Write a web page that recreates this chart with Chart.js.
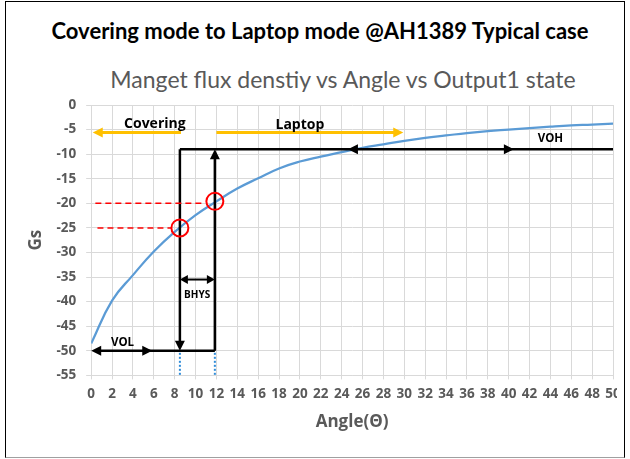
<!DOCTYPE html>
<html>
<head>
<meta charset="utf-8">
<script src="https://cdn.jsdelivr.net/npm/chart.js@4.4.1/dist/chart.umd.min.js"></script>
<style>
  body { margin: 0; background: #fff; width: 630px; height: 459px; overflow: hidden; font-family: Lato, sans-serif; }
  #marco { position: absolute; left: 5px; top: 1px; width: 618px; height: 455px; border: 1px solid #000; border-bottom-color: #a0a0a0; }
  #titulo { position: absolute; left: 0; top: 18px; width: 640px; text-align: center; font: bold 22px Lato, sans-serif; line-height: 26px; color: #000; }
  #subtitulo { position: absolute; left: 0; top: 65px; width: 686px; text-align: center; font: 23px Lato, sans-serif; line-height: 28px; color: #595959; }
  #caja { position: absolute; left: 0; top: 80px; width: 617px; height: 360px; overflow: hidden; }
  canvas { display: block; }
</style>
</head>
<body>
<div id="marco"></div>
<div id="titulo">Covering mode to Laptop mode @AH1389 Typical case</div>
<div id="subtitulo">Manget flux denstiy vs Angle vs Output1 state</div>
<div id="caja"><canvas id="grafico" width="633" height="360"></canvas></div>

<script>
// Datos de la curva (ángulo en grados, flujo en Gs)
const angulos = [0, 2, 4, 6, 8, 10, 12, 14, 16, 18, 20, 22, 24, 26, 28, 30, 32, 34, 36, 38, 40, 42, 44, 46, 48, 50];
const flujoGs = [-48.5, -39.8, -34.6, -29.8, -25.8, -22.4, -19.6, -17.0, -14.9, -12.9, -11.5, -10.5, -9.6, -8.7, -8.0, -7.3, -6.7, -6.2, -5.7, -5.3, -5.0, -4.7, -4.4, -4.15, -4.0, -3.8];

// Ejes
const ejeX = { min: 0, max: 50, paso: 2 };
const ejeY = { min: -55, max: 0, paso: 5 };

// Anotaciones (en unidades del gráfico)
const anguloBRP = 8.5;   // Covering -> punto BRP
const anguloBOP = 11.85; // Laptop -> punto BOP
const gsBRP = -25;
const gsBOP = -19.6;
const gsVOH = -9;
const gsVOL = -50;
const gsBHYS = -35.5;
const gsModos = -5.6;
const flechaCovering = [8.6, 0.15];
const flechaLaptop = [12, 29.9];
const flechaVOH = [24.6, 40.5];
const flechaVOL = [0, 5.85];
const lineasRojas = [[-20, 0.4, 10.9], [-25, 0.6, 7.7]];

function punta(ctx, x, y, dx, dy, largo, ancho, color) {
    ctx.save();
    ctx.fillStyle = color;
    ctx.translate(x, y);
    ctx.rotate(Math.atan2(dy, dx));
    ctx.beginPath();
    ctx.moveTo(0, 0);
    ctx.lineTo(-largo, -ancho);
    ctx.lineTo(-largo, ancho);
    ctx.closePath();
    ctx.fill();
    ctx.restore();
}

function linea(ctx, x0, y0, x1, y1) {
    ctx.beginPath();
    ctx.moveTo(x0, y0);
    ctx.lineTo(x1, y1);
    ctx.stroke();
}

const anotaciones = {
    id: "anotaciones",
    afterDatasetsDraw(chart) {
        const { ctx, scales } = chart;
        const px = v => scales.x.getPixelForValue(v);
        const py = v => scales.y.getPixelForValue(v);
        ctx.save();

        // Flechas naranjas de modo
        ctx.strokeStyle = "#FFC000";
        ctx.lineWidth = 3;
        linea(ctx, px(flechaCovering[0]), py(gsModos), px(flechaCovering[1]) + 8, py(gsModos));
        punta(ctx, px(flechaCovering[1]), py(gsModos), -1, 0, 10, 5, "#FFC000");
        linea(ctx, px(flechaLaptop[0]), py(gsModos), px(flechaLaptop[1]) - 8, py(gsModos));
        punta(ctx, px(flechaLaptop[1]), py(gsModos), 1, 0, 10, 5, "#FFC000");

        // Líneas negras de salida
        ctx.strokeStyle = "#000";
        ctx.lineWidth = 2.5;
        linea(ctx, px(anguloBRP), py(gsVOH), px(ejeX.max), py(gsVOH));
        linea(ctx, px(anguloBRP), py(gsVOH), px(anguloBRP), py(gsVOL) - 8);
        punta(ctx, px(anguloBRP), py(gsVOL), 0, 1, 10, 5, "#000");
        linea(ctx, px(anguloBOP), py(gsVOL), px(anguloBOP), py(gsVOH) + 8);
        punta(ctx, px(anguloBOP), py(gsVOH), 0, -1, 10, 5, "#000");
        linea(ctx, px(flechaVOL[0]) + 8, py(gsVOL), px(anguloBOP), py(gsVOL));
        punta(ctx, px(flechaVOL[0]), py(gsVOL), -1, 0, 10, 5, "#000");
        punta(ctx, px(flechaVOL[1]), py(gsVOL), 1, 0, 10, 5, "#000");
        punta(ctx, px(flechaVOH[0]), py(gsVOH), -1, 0, 10, 5, "#000");
        punta(ctx, px(flechaVOH[1]), py(gsVOH), 1, 0, 10, 5, "#000");
        ctx.lineWidth = 2;
        linea(ctx, px(anguloBRP) + 6, py(gsBHYS), px(anguloBOP) - 6, py(gsBHYS));
        punta(ctx, px(anguloBRP), py(gsBHYS), -1, 0, 8, 4.5, "#000");
        punta(ctx, px(anguloBOP), py(gsBHYS), 1, 0, 8, 4.5, "#000");

        // Puntos azules bajo VOL
        ctx.strokeStyle = "#2E8BD8";
        ctx.lineWidth = 2;
        ctx.setLineDash([2, 2]);
        linea(ctx, px(anguloBRP), py(gsVOL) + 2, px(anguloBRP), py(ejeY.min));
        linea(ctx, px(anguloBOP), py(gsVOL) + 2, px(anguloBOP), py(ejeY.min));

        // Líneas rojas punteadas y círculos
        ctx.strokeStyle = "#FF0000";
        ctx.lineWidth = 1.5;
        ctx.setLineDash([6, 4]);
        lineasRojas.forEach(([g, a0, a1]) => linea(ctx, px(a0), py(g), px(a1), py(g)));
        ctx.setLineDash([]);
        ctx.lineWidth = 2;
        [[anguloBRP, gsBRP], [anguloBOP, gsBOP]].forEach(([a, g]) => {
            ctx.beginPath();
            ctx.arc(px(a), py(g), 8.5, 0, Math.PI * 2);
            ctx.stroke();
        });

        // Textos
        ctx.fillStyle = "#000";
        ctx.textAlign = "center";
        ctx.textBaseline = "middle";
        ctx.font = "bold 14px 'Open Sans', sans-serif";
        ctx.fillText("Covering", px(6.1), py(-3.8));
        ctx.fillText("Laptop", px(20), py(-4.0));
        ctx.font = "bold 11.5px 'Open Sans', sans-serif";
        ctx.fillText("VOL", px(3.0), py(-48.3));
        ctx.fillText("VOH", px(44), py(-6.9));
        ctx.font = "bold 10px 'Open Sans', sans-serif";
        ctx.fillText("BHYS", px(10.15), py(-38.6));
        ctx.restore();
    }
};

const fuenteEje = { family: "Open Sans", weight: "bold", size: 13.5 };
const fuenteTitulo = { family: "Open Sans", weight: "bold", size: 17 };

new Chart(document.getElementById("grafico").getContext("2d"), {
    type: "line",
    data: {
        datasets: [{
            label: "Gs",
            data: angulos.map((a, i) => ({ x: a, y: flujoGs[i] })),
            borderColor: "#5B9BD5",
            borderWidth: 2.25,
            pointRadius: 0,
            tension: 0.45,
            fill: false,
        }],
    },
    options: {
        responsive: false,
        animation: false,
        layout: { padding: { left: 22, right: 20, top: 25, bottom: 4 } },
        plugins: { legend: { display: false }, tooltip: { enabled: false } },
        scales: {
            x: {
                type: "linear",
                min: ejeX.min,
                max: ejeX.max,
                grid: { color: "#D9D9D9", tickLength: 4 },
                border: { color: "#D9D9D9" },
                ticks: { stepSize: ejeX.paso, autoSkip: false, maxRotation: 0, padding: 7, color: "#595959", font: fuenteEje },
                title: { display: true, text: "Angle(Θ)", color: "#595959", padding: { top: 2, bottom: 4 }, font: fuenteTitulo },
            },
            y: {
                min: ejeY.min,
                max: ejeY.max,
                grid: { color: "#D9D9D9", tickLength: 5 },
                border: { color: "#D9D9D9" },
                ticks: { stepSize: ejeY.paso, padding: 10, color: "#595959", font: fuenteEje },
                title: { display: true, text: "Gs", color: "#595959", padding: { top: 4, bottom: 0 }, font: fuenteTitulo },
            },
        },
    },
    plugins: [anotaciones],
});
</script>
</body>
</html>
